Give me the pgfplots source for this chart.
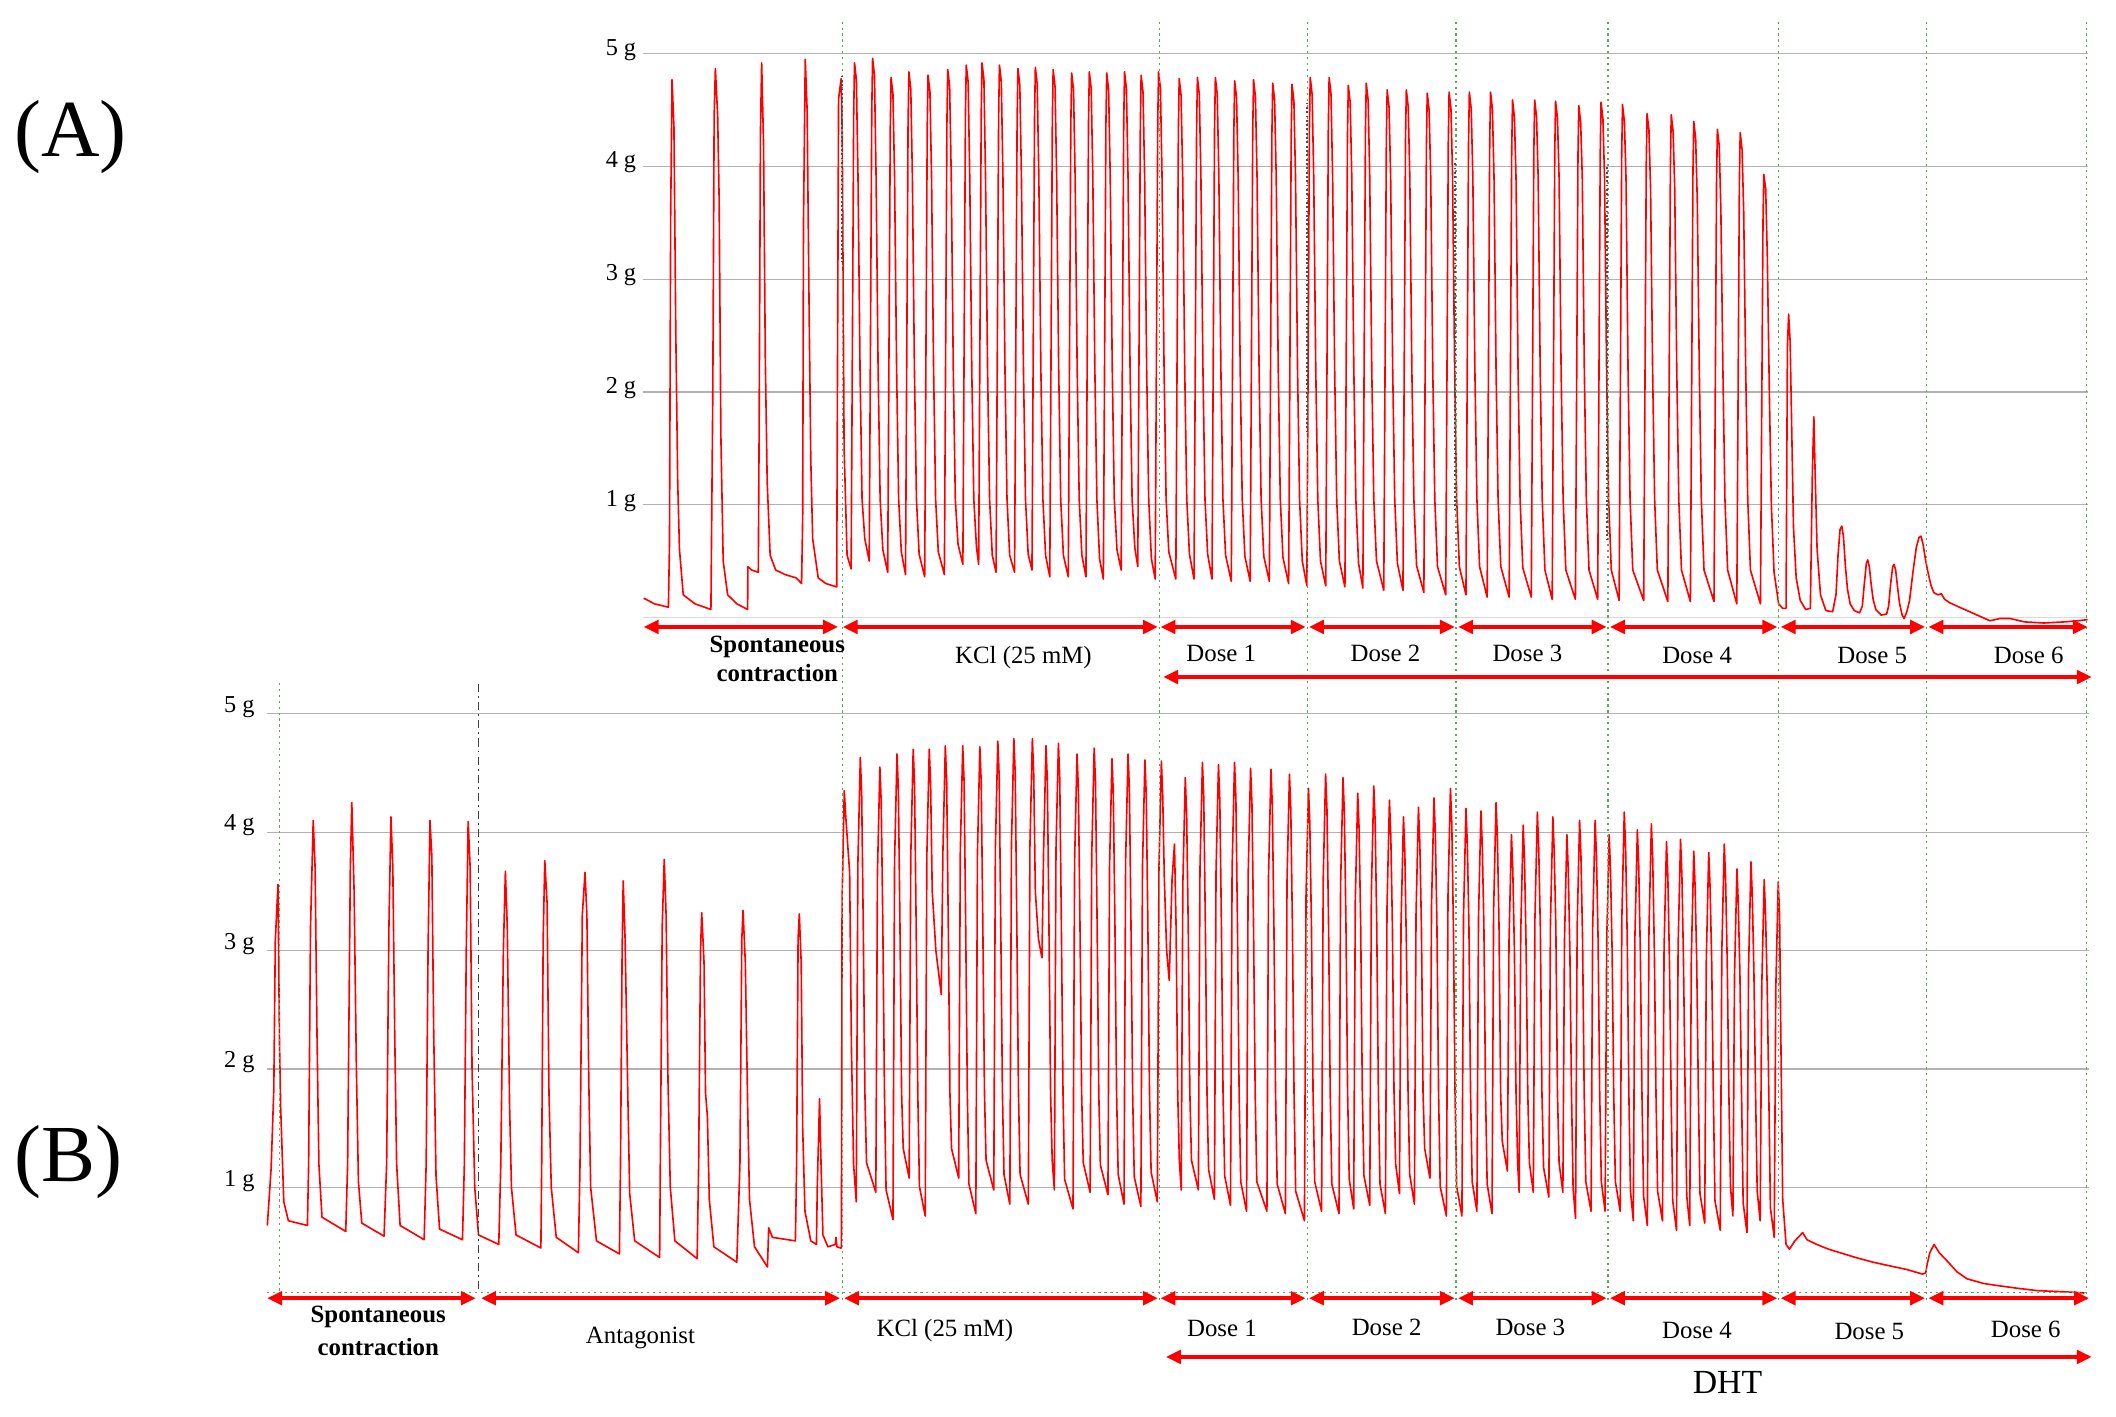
\documentclass[border=0pt]{standalone}
\usepackage{fontspec}
\setmainfont{Liberation Serif}
\usepackage{pgfplots}
\pgfplotsset{compat=1.18}
\usetikzlibrary{arrows.meta}
\definecolor{gline}{RGB}{90,170,90}
\definecolor{trace}{RGB}{255,0,0}
\pgfplotsset{trace axis/.style={scale only axis, enlargelimits=false,
  axis line style={draw=none}, tick style={draw=none}, xtick=\empty,
  ytick={1,2,3,4,5}, yticklabels={1 g,2 g,3 g,4 g,5 g},
  ymajorgrids, major grid style={color=gray!60, line width=0.5pt},
  ymin=-0.1, ymax=5,
  yticklabel style={font=\fontsize{9}{10}\selectfont, anchor=east, inner sep=0pt}}}
\tikzset{rarr/.style={draw=red, line width=1.3pt, arrows={Triangle[length=5.5pt,width=5pt]-Triangle[length=5.5pt,width=5pt]}},
  gdot/.style={gline, line width=0.5pt, dash pattern=on 0.8pt off 1.4pt}}
\newcommand\lab{\fontsize{9.2}{10}\selectfont}
\begin{document}
\begin{tikzpicture}
\path[use as bounding box] (0,0) rectangle (784pt,525pt);
% ---------------- Panel A ----------------
\begin{axis}[trace axis, at={(238.4pt,292.08pt)}, anchor=south west, width=535.1pt, height=212.98pt,
  xmin=476.8, xmax=1547, yticklabel style={xshift=-2.5pt,yshift=1.5pt},
  extra y ticks={0}, extra y tick labels={}, extra y tick style={major grid style={color=gray!30,line width=0.5pt}}]
\addplot[trace, line width=0.6pt, line join=round] coordinates {
(477.0,0.17) (485,0.12) (495.3,0.09) (496.1,0.65) (497.0,3.6) (498.0,4.77) (499.4,4.35) (500.8,2.5) (502.2,1.2) (503.5,0.6) (506.3,0.2) (515,0.12) (526.8,0.07)
(528.2,2.0) (529.2,4.45) (530.1,4.87) (531.8,4.45) (532.9,3.7) (534.2,1.6) (535.9,0.5) (539.2,0.2) (546,0.12) (554.0,0.07)
(554.2,0.45) (557,0.42) (561.9,0.40) (562.5,1.6) (563.5,4.3) (564.4,4.92) (565.8,4.2) (567.1,2.3) (568.5,1.2) (570.7,0.55) (574.8,0.42) (581.7,0.38) (590,0.35) (594.0,0.30)
(594.8,0.9) (595.4,3.5) (596.7,4.95) (598.1,4.5) (599.5,2.8) (600.8,1.4) (602.2,0.7) (606.3,0.35) (612,0.30) (620.0,0.27)
(620.6,2.2) (621.4,4.6) (623.3,4.78) (624.1,4.3) (625.5,1.5) (627.7,0.55) (630.7,0.43)
(632.6,4.47) (633.2,4.92) (634.6,4.77) (635.8,3.9) (637.3,2.2) (638.8,1.05) (640.8,0.70)
(644.1,0.50) (646.0,4.5) (646.6,4.96) (648.0,4.81) (649.2,3.9) (650.7,2.2) (652.2,1.05) (654.2,0.6)
(657.8,0.40) (659.7,4.34) (660.3,4.79) (661.7,4.64) (662.9,3.9) (664.4,2.2) (665.9,1.05) (667.9,0.58)
(671.0,0.38) (672.9,4.39) (673.5,4.84) (674.9,4.69) (676.1,3.9) (677.6,2.2) (679.1,1.05) (681.1,0.56)
(685.2,0.36) (687.1,4.36) (687.7,4.81) (689.1,4.66) (690.3,3.9) (691.8,2.2) (693.3,1.05) (695.3,0.58)
(699.8,0.38) (701.7,4.41) (702.3,4.86) (703.7,4.71) (704.9,3.9) (706.4,2.2) (707.9,1.05) (709.9,0.65)
(713.5,0.47) (715.4,4.45) (716.0,4.90) (717.4,4.75) (718.6,3.9) (720.1,2.2) (721.6,1.05) (723.6,0.62)
(725.2,0.47) (727.1,4.47) (727.7,4.92) (729.1,4.77) (730.3,3.9) (731.8,2.2) (733.3,1.05) (735.3,0.55)
(738.1,0.40) (740.0,4.45) (740.6,4.90) (742.0,4.75) (743.2,3.9) (744.7,2.2) (746.2,1.05) (748.2,0.55)
(751.8,0.40) (753.7,4.42) (754.3,4.87) (755.7,4.72) (756.9,3.9) (758.4,2.2) (759.9,1.05) (761.9,0.56)
(764.7,0.42) (766.6,4.43) (767.2,4.88) (768.6,4.73) (769.8,3.9) (771.3,2.2) (772.8,1.05) (774.8,0.55)
(777.9,0.36) (779.8,4.41) (780.4,4.86) (781.8,4.71) (783.0,3.9) (784.5,2.2) (786.0,1.05) (788.0,0.55)
(791.6,0.36) (793.5,4.38) (794.1,4.83) (795.5,4.68) (796.7,3.9) (798.2,2.2) (799.7,1.05) (801.7,0.55)
(804.7,0.36) (806.6,4.39) (807.2,4.84) (808.6,4.69) (809.8,3.9) (811.3,2.2) (812.8,1.05) (814.8,0.52)
(817.6,0.34) (819.5,4.38) (820.1,4.83) (821.5,4.68) (822.7,3.9) (824.2,2.2) (825.7,1.05) (827.7,0.6)
(830.8,0.42) (832.7,4.39) (833.3,4.84) (834.7,4.69) (835.9,3.9) (837.4,2.2) (838.9,1.05) (840.9,0.62)
(843.1,0.45) (845.0,4.36) (845.6,4.81) (847.0,4.66) (848.2,3.9) (849.7,2.2) (851.2,1.05) (853.2,0.52)
(856.0,0.34) (857.9,4.39) (858.5,4.84) (859.9,4.69) (861.1,3.9) (862.6,2.2) (864.1,1.05) (866.1,0.58)
(871.3,0.34) (873.2,4.33) (873.8,4.78) (875.2,4.63) (876.4,3.9) (877.9,2.2) (879.4,1.05) (881.4,0.56)
(884.8,0.34) (886.7,4.34) (887.3,4.79) (888.7,4.64) (889.9,3.9) (891.4,2.2) (892.9,1.05) (894.9,0.56)
(898.1,0.34) (900.0,4.34) (900.6,4.79) (902.0,4.64) (903.2,3.9) (904.7,2.2) (906.2,1.05) (908.2,0.55)
(912.4,0.32) (914.3,4.31) (914.9,4.76) (916.3,4.61) (917.5,3.9) (919.0,2.2) (920.5,1.05) (922.5,0.54)
(926.4,0.32) (928.3,4.32) (928.9,4.77) (930.3,4.62) (931.5,3.9) (933.0,2.2) (934.5,1.05) (936.5,0.54)
(940.6,0.32) (942.5,4.29) (943.1,4.74) (944.5,4.59) (945.7,3.9) (947.2,2.2) (948.7,1.05) (950.7,0.53)
(954.9,0.30) (956.8,4.28) (957.4,4.73) (958.8,4.58) (960.0,3.9) (961.5,2.2) (963.0,1.05) (965.0,0.5)
(968.4,0.28) (970.3,4.34) (970.9,4.79) (972.3,4.64) (973.5,3.9) (975.0,2.2) (976.5,1.05) (978.5,0.5)
(982.4,0.28) (984.3,4.34) (984.9,4.79) (986.3,4.64) (987.5,3.9) (989.0,2.2) (990.5,1.05) (992.5,0.5)
(996.6,0.27) (998.5,4.27) (999.1,4.72) (1000.5,4.57) (1001.7,3.9) (1003.2,2.2) (1004.7,1.05) (1006.7,0.48)
(1009.9,0.26) (1011.8,4.29) (1012.4,4.74) (1013.8,4.59) (1015.0,3.9) (1016.5,2.2) (1018.0,1.05) (1020.0,0.5)
(1025.4,0.24) (1027.3,4.23) (1027.9,4.68) (1029.3,4.53) (1030.5,3.9) (1032.0,2.2) (1033.5,1.05) (1035.5,0.48)
(1039.6,0.24) (1041.5,4.23) (1042.1,4.68) (1043.5,4.53) (1044.7,3.9) (1046.2,2.2) (1047.7,1.05) (1049.7,0.46)
(1055.1,0.22) (1057.0,4.2) (1057.6,4.65) (1059.0,4.5) (1060.2,3.9) (1061.7,2.2) (1063.2,1.05) (1065.2,0.45)
(1071.3,0.20) (1073.2,4.21) (1073.8,4.66) (1075.2,4.51) (1076.4,3.9) (1077.9,2.2) (1079.4,1.05) (1081.4,0.45)
(1086.3,0.20) (1088.2,4.21) (1088.8,4.66) (1090.2,4.51) (1091.4,3.9) (1092.9,2.2) (1094.4,1.05) (1096.4,0.45)
(1102.0,0.18) (1103.9,4.21) (1104.5,4.66) (1105.9,4.51) (1107.1,3.9) (1108.6,2.2) (1110.1,1.05) (1112.1,0.45)
(1118.3,0.18) (1120.2,4.14) (1120.8,4.59) (1122.2,4.44) (1123.4,3.9) (1124.9,2.2) (1126.4,1.05) (1128.4,0.44)
(1134.7,0.18) (1136.6,4.14) (1137.2,4.59) (1138.6,4.44) (1139.8,3.9) (1141.3,2.2) (1142.8,1.05) (1144.8,0.42)
(1150.2,0.16) (1152.1,4.13) (1152.7,4.58) (1154.1,4.43) (1155.3,3.9) (1156.8,2.2) (1158.3,1.05) (1160.3,0.42)
(1167.4,0.16) (1169.3,4.09) (1169.9,4.54) (1171.3,4.39) (1172.5,3.9) (1174.0,2.2) (1175.5,1.05) (1177.5,0.42)
(1183.9,0.16) (1185.8,4.12) (1186.4,4.57) (1187.8,4.42) (1189.0,3.9) (1190.5,2.2) (1192.0,1.05) (1194.0,0.42)
(1199.8,0.15) (1201.7,4.1) (1202.3,4.55) (1203.7,4.4) (1204.9,3.9) (1206.4,2.2) (1207.9,1.05) (1209.9,0.42)
(1218.0,0.15) (1219.9,4.02) (1220.5,4.47) (1221.9,4.32) (1223.1,3.8) (1224.6,2.2) (1226.1,1.05) (1228.1,0.42)
(1235.9,0.14) (1237.8,4.01) (1238.4,4.46) (1239.8,4.31) (1241.0,3.8) (1242.5,2.2) (1244.0,1.05) (1246.0,0.42)
(1252.6,0.14) (1254.5,3.95) (1255.1,4.40) (1256.5,4.25) (1257.7,3.7) (1259.2,2.2) (1260.7,1.05) (1262.7,0.42)
(1270.1,0.14) (1272.0,3.88) (1272.6,4.33) (1274.0,4.18) (1275.2,3.6) (1276.7,2.2) (1278.2,1.05) (1280.2,0.42)
(1287.0,0.12) (1288.9,3.85) (1289.5,4.30) (1290.9,4.15) (1292.1,3.6) (1293.6,2.2) (1295.1,1.05) (1297.1,0.42)
(1304.5,0.12) (1306.4,3.5) (1307.0,3.93) (1308.4,3.8) (1309.6,3.2) (1311.1,2.0) (1312.6,1.0) (1314.6,0.4) (1318,0.12) (1321,0.08) (1323.5,0.08)
(1324.5,2.4) (1325.4,2.69) (1326.5,2.45) (1327.5,1.8) (1329,0.8) (1331,0.35) (1334,0.15) (1338,0.07) (1341.5,0.08)
(1343,1.3) (1344.1,1.78) (1345,1.3) (1346.5,0.6) (1349,0.2) (1353,0.06) (1358,0.05)
(1360.5,0.2) (1362,0.55) (1363.5,0.78) (1364.8,0.81) (1366,0.72) (1367.5,0.45) (1369,0.25) (1371,0.12) (1374,0.06) (1378,0.04)
(1380,0.1) (1381.5,0.3) (1383,0.48) (1384,0.51) (1385.2,0.45) (1386.5,0.3) (1388,0.16) (1390,0.07) (1394,0.02) (1398,0.03)
(1399.5,0.1) (1401,0.3) (1402.5,0.45) (1403.5,0.47) (1404.7,0.42) (1406,0.28) (1407.5,0.13) (1409.5,0.02) (1411,-0.01)
(1413,0.05) (1415,0.15) (1417.5,0.4) (1420,0.62) (1422,0.71) (1423.5,0.72) (1425,0.65) (1427,0.5) (1429,0.38) (1431,0.28) (1433,0.22) (1436,0.2) (1438.5,0.21) (1441,0.16) (1444.7,0.13)
(1452,0.09) (1459.6,0.05) (1467,0.01) (1474.6,-0.03) (1482,-0.01) (1489.5,-0.01) (1500,-0.04) (1514.5,-0.05) (1530,-0.04) (1540,-0.03) (1547,-0.02)
};
\end{axis}
% ---------------- Panel B ----------------
\begin{axis}[trace axis, at={(98.8pt,36.71pt)}, anchor=south west, width=675.05pt, height=223.84pt,
  xmin=197.6, xmax=1547.7, yticklabel style={xshift=-4.3pt,yshift=2.5pt}]
\addplot[trace, line width=0.6pt, line join=round] coordinates {
(198.1,0.68) (200.9,1.16) (202.9,1.83) (204.0,3.08) (206.0,3.56) (207.1,2.23) (208.0,1.67) (210.3,0.88) (213.7,0.72) (227.8,0.68)
(228.7,1.2) (230.1,3.2) (232.1,4.10) (233.5,3.7) (234.9,2.3) (236.3,1.2) (238.6,0.75) (256.2,0.63)
(257.6,1.2) (259.6,3.7) (260.7,4.25) (262.4,3.5) (264.1,2.0) (265.6,1.05) (268.1,0.7) (284.6,0.59)
(286.5,1.2) (288.2,3.2) (289.7,4.13) (291.1,3.7) (292.5,2.3) (293.9,1.2) (296.5,0.68) (314.3,0.56)
(315.8,1.2) (317.2,3.0) (318.6,4.10) (320.0,3.8) (321.4,2.3) (323.1,1.1) (325.7,0.65) (342.7,0.56)
(344.1,1.2) (345.5,3.0) (346.9,4.09) (348.4,3.7) (349.8,2.0) (351.8,1.0) (354.6,0.6) (369.6,0.52)
(371.1,1.2) (373.0,3.0) (374.5,3.67) (375.9,3.2) (377.6,1.7) (379.0,1.0) (382.4,0.6) (400.8,0.49)
(401.4,1.2) (402.5,3.1) (403.7,3.76) (405.4,3.4) (406.8,1.8) (408.5,1.0) (412.2,0.58) (428.6,0.45)
(429.8,1.2) (431.5,3.3) (433.5,3.66) (434.9,3.3) (436.3,1.9) (437.7,1.0) (442.0,0.55) (459.0,0.44)
(459.8,1.2) (461.0,3.0) (461.8,3.59) (463.2,3.1) (465.2,1.8) (466.6,0.95) (470.3,0.55) (488.8,0.41)
(489.3,1.2) (490.7,3.2) (492.2,3.77) (493.6,3.3) (495.0,1.9) (496.7,1.0) (500.1,0.55) (516.6,0.40)
(517.7,1.2) (519.1,3.0) (520.0,3.32) (521.7,2.9) (522.8,1.8) (524.2,1.6) (525.6,0.9) (529.0,0.5) (546.0,0.37)
(548.3,1.2) (549.7,3.1) (550.6,3.34) (552.3,2.9) (554.0,1.7) (555.4,0.9) (559.1,0.5) (568.7,0.33)
(569.6,0.66) (572.4,0.58) (589.4,0.55)
(590.3,1.2) (591.4,3.1) (592.3,3.31) (593.7,2.9) (594.8,1.5) (596.5,0.8) (600.8,0.55) (605.0,0.52)
(605.6,1.0) (607.3,1.75) (608.4,1.2) (609.8,0.6) (613.5,0.50) (619.0,0.52) (619.5,0.58) (620.2,0.5) (622.9,0.49)
(623.5,0.49) (624.0,3.42) (625.6,4.35) (626.9,4.1) (629.6,3.66) (630.9,2.2) (632.5,1.2)
(634.5,0.88) (635.7,3.73) (637.5,4.63) (638.5,4.33) (639.7,3.2) (640.9,1.8) (642.1,1.21)
(649.0,0.96) (650.2,3.65) (652.0,4.55) (653.0,4.25) (654.2,3.2) (655.4,1.8) (656.6,0.98)
(661.7,0.73) (662.9,3.76) (664.7,4.66) (665.7,4.36) (666.9,3.2) (668.1,1.8) (669.3,1.33)
(673.7,1.08) (674.9,3.8) (676.7,4.70) (677.7,4.4) (678.9,3.2) (680.1,1.8) (681.3,1.01)
(685.6,0.76) (686.8,3.8) (688.6,4.70) (689.6,4.4) (690.8,3.5) (693.5,3.0)
(697.5,2.63) (698.7,3.83) (700.5,4.73) (701.5,4.43) (702.7,3.2) (703.9,1.8) (705.1,1.33)
(710.4,1.08) (711.6,3.83) (713.4,4.73) (714.4,4.43) (715.6,3.2) (716.8,1.8) (718.0,1.03)
(723.1,0.78) (724.3,3.82) (726.1,4.72) (727.1,4.42) (728.3,3.2) (729.5,1.8) (730.7,1.23)
(736.4,0.98) (737.6,3.87) (739.4,4.77) (740.4,4.47) (741.6,3.2) (742.8,1.8) (744.0,1.11)
(748.3,0.86) (749.5,3.89) (751.3,4.79) (752.3,4.49) (753.5,3.2) (754.7,1.8) (755.9,1.11)
(762.0,0.86) (763.2,3.89) (765.0,4.79) (766.0,4.49) (767.2,3.5) (769.5,3.1)
(772.1,2.94) (773.3,3.83) (775.1,4.73) (776.1,4.43) (777.3,3.2) (778.5,1.8) (779.7,1.23)
(781.3,0.98) (782.5,3.85) (784.3,4.75) (785.3,4.45) (786.5,3.2) (787.7,1.8) (788.9,1.07)
(795.1,0.82) (796.3,3.76) (798.1,4.66) (799.1,4.36) (800.3,3.2) (801.5,1.8) (802.7,1.21)
(807.8,0.96) (809.0,3.81) (810.8,4.71) (811.8,4.41) (813.0,3.2) (814.2,1.8) (815.4,1.19)
(821.0,0.94) (822.2,3.72) (824.0,4.62) (825.0,4.32) (826.2,3.2) (827.4,1.8) (828.6,1.11)
(832.9,0.86) (834.1,3.76) (835.9,4.66) (836.9,4.36) (838.1,3.2) (839.3,1.8) (840.5,1.09)
(845.4,0.84) (846.6,3.71) (848.4,4.61) (849.4,4.31) (850.6,3.2) (851.8,1.8) (853.0,1.13)
(857.6,0.88) (858.8,3.7) (860.6,4.60) (861.6,4.3) (862.8,3.6) (864.5,3.0) (866.4,2.75) (868.5,3.6) (870.3,3.9) (871.5,3.2) (872.7,1.8) (873.9,1.23)
(875.3,0.98) (876.5,3.56) (878.3,4.46) (879.3,4.16) (880.5,3.2) (881.7,1.8) (882.9,1.23)
(888.0,0.98) (889.2,3.69) (891.0,4.59) (892.0,4.29) (893.2,3.2) (894.4,1.8) (895.6,1.15)
(899.9,0.90) (901.1,3.67) (902.9,4.57) (903.9,4.27) (905.1,3.2) (906.3,1.8) (907.5,1.1)
(911.8,0.85) (913.0,3.69) (914.8,4.59) (915.8,4.29) (917.0,3.2) (918.2,1.8) (919.4,1.05)
(923.7,0.80) (924.9,3.64) (926.7,4.54) (927.7,4.24) (928.9,3.2) (930.1,1.8) (931.3,1.05)
(938.8,0.80) (940.0,3.63) (941.8,4.53) (942.8,4.23) (944.0,3.2) (945.2,1.8) (946.4,1.03)
(952.5,0.78) (953.7,3.59) (955.5,4.49) (956.5,4.19) (957.7,3.2) (958.9,1.8) (960.1,0.97)
(966.6,0.72) (967.8,3.47) (969.6,4.37) (970.6,4.07) (971.8,3.2) (973.0,1.8) (974.2,1.05)
(979.3,0.80) (980.5,3.59) (982.3,4.49) (983.3,4.19) (984.5,3.2) (985.7,1.8) (986.9,1.03)
(992.2,0.78) (993.4,3.56) (995.2,4.46) (996.2,4.16) (997.4,3.2) (998.6,1.8) (999.8,1.07)
(1003.1,0.82) (1004.3,3.43) (1006.1,4.33) (1007.1,4.03) (1008.3,3.2) (1009.5,1.8) (1010.7,1.1)
(1015.0,0.85) (1016.2,3.49) (1018.0,4.39) (1019.0,4.09) (1020.2,3.2) (1021.4,1.8) (1022.6,1.03)
(1026.6,0.78) (1027.8,3.37) (1029.6,4.27) (1030.6,3.97) (1031.8,3.2) (1033.0,1.8) (1034.2,1.2)
(1037.0,0.95) (1038.2,3.23) (1040.0,4.13) (1041.0,3.83) (1042.2,3.0) (1043.4,1.8) (1044.6,1.11)
(1048.1,0.86) (1049.3,3.31) (1051.1,4.21) (1052.1,3.91) (1053.3,3.2) (1054.5,1.8) (1055.7,1.33)
(1059.6,1.08) (1060.8,3.39) (1062.6,4.29) (1063.6,3.99) (1064.8,3.2) (1066.0,1.8) (1067.2,1.01)
(1071.8,0.76) (1073.0,3.47) (1074.8,4.37) (1075.8,4.07) (1077.0,3.2) (1078.2,1.8) (1079.4,1.01)
(1083.3,0.76) (1084.5,3.3) (1086.3,4.20) (1087.3,3.9) (1088.5,3.2) (1089.7,1.8) (1090.9,1.05)
(1094.4,0.80) (1095.6,3.28) (1097.4,4.18) (1098.4,3.88) (1099.6,3.2) (1100.8,1.8) (1102.0,1.03)
(1105.6,0.78) (1106.8,3.35) (1108.6,4.25) (1109.6,3.95) (1110.8,3.2) (1112.0,1.8) (1113.2,1.39)
(1117.0,1.14) (1118.2,3.08) (1120.0,3.98) (1121.0,3.68) (1122.2,3.0) (1123.4,1.8) (1124.6,1.21)
(1125.7,0.96) (1126.9,3.16) (1128.7,4.06) (1129.7,3.76) (1130.9,3.0) (1132.1,1.8) (1133.3,1.21)
(1136.2,0.96) (1137.4,3.27) (1139.2,4.17) (1140.2,3.87) (1141.4,3.2) (1142.6,1.8) (1143.8,1.17)
(1147.7,0.92) (1148.9,3.23) (1150.7,4.13) (1151.7,3.83) (1152.9,3.2) (1154.1,1.8) (1155.3,1.21)
(1158.1,0.96) (1159.3,3.08) (1161.1,3.98) (1162.1,3.68) (1163.3,3.0) (1164.5,1.8) (1165.7,0.99)
(1167.5,0.74) (1168.7,3.2) (1170.5,4.10) (1171.5,3.8) (1172.7,3.1) (1173.9,1.8) (1175.1,1.05)
(1179.0,0.80) (1180.2,3.2) (1182.0,4.10) (1183.0,3.8) (1184.2,3.1) (1185.4,1.8) (1186.6,1.05)
(1189.4,0.80) (1190.6,3.08) (1192.4,3.98) (1193.4,3.68) (1194.6,3.0) (1195.8,1.8) (1197.0,1.05)
(1200.6,0.80) (1201.8,3.27) (1203.6,4.17) (1204.6,3.87) (1205.8,3.1) (1207.0,1.8) (1208.2,0.97)
(1210.3,0.72) (1211.5,3.12) (1213.3,4.02) (1214.3,3.72) (1215.5,3.0) (1216.7,1.8) (1217.9,0.93)
(1220.7,0.68) (1221.9,3.17) (1223.7,4.07) (1224.7,3.77) (1225.9,3.0) (1227.1,1.8) (1228.3,0.97)
(1231.9,0.72) (1233.1,3.02) (1234.9,3.92) (1235.9,3.62) (1237.1,2.9) (1238.3,1.8) (1239.5,0.89)
(1242.3,0.64) (1243.5,3.04) (1245.3,3.94) (1246.3,3.64) (1247.5,2.9) (1248.7,1.8) (1249.9,0.93)
(1252.1,0.68) (1253.3,2.94) (1255.1,3.84) (1256.1,3.54) (1257.3,2.9) (1258.5,1.8) (1259.7,0.95)
(1263.2,0.70) (1264.4,2.93) (1266.2,3.83) (1267.2,3.53) (1268.4,2.9) (1269.6,1.8) (1270.8,0.89)
(1274.7,0.64) (1275.9,3.0) (1277.7,3.90) (1278.7,3.6) (1279.9,2.9) (1281.1,1.8) (1282.3,1.01)
(1284.1,0.76) (1285.3,2.79) (1287.1,3.69) (1288.1,3.39) (1289.3,2.8) (1290.5,1.8) (1291.7,0.87)
(1294.5,0.62) (1295.7,2.85) (1297.5,3.75) (1298.5,3.45) (1299.7,2.8) (1300.9,1.8) (1302.1,0.97)
(1304.3,0.72) (1305.5,2.7) (1307.3,3.60) (1308.3,3.3) (1309.5,2.7) (1310.7,1.8) (1311.9,0.83)
(1314.7,0.58) (1315.9,2.68) (1317.7,3.58) (1318.7,3.3) (1319.6,2.3) (1321.0,0.9) (1323.5,0.52) (1326,0.48) (1330,0.55) (1335.8,0.62) (1339,0.56) (1346.2,0.52) (1355,0.48) (1363.6,0.45) (1375,0.41) (1388.0,0.37) (1400,0.34) (1412.4,0.31) (1424.5,0.27) (1427.0,0.28) (1428.0,0.35) (1430,0.45) (1433.2,0.52) (1437,0.45) (1443.7,0.37) (1450,0.29) (1457.6,0.23) (1470,0.19) (1482.0,0.17) (1495,0.15) (1509.8,0.13) (1530,0.12) (1544.6,0.11)
};
\end{axis}
% ---------------- annotations ----------------
\begin{scope}[x=0.5pt,y=-0.5pt,shift={(0pt,525pt)}]
\foreach \gx in {624.1,859.1,968.7,1079,1191.5,1318,1427.5,1546}{\draw[gdot] (\gx,16) -- (\gx,966);}
\draw[gdot] (206.9,506) -- (206.9,966);
\draw[gdot] (198,958) -- (1546,958);
\draw[black!75, line width=0.7pt, dash pattern=on 3pt off 1.5pt on 0.7pt off 1.5pt] (354.6,507) -- (354.6,958);
\draw[black!70, line width=0.6pt, dash pattern=on 0.7pt off 0.9pt] (624.1,56) -- (624.1,194);
\draw[black!70, line width=0.6pt, dash pattern=on 0.7pt off 0.9pt] (968.7,76) -- (968.7,320);
\draw[black!70, line width=0.6pt, dash pattern=on 0.7pt off 0.9pt] (1078,121) -- (1078,378);
\draw[black!70, line width=0.6pt, dash pattern=on 0.7pt off 0.9pt] (1191,124) -- (1191,400);
% arrows panel A
\foreach \a/\b in {477/621,624.5/858,860/967.5,970/1078,1080.5/1190.5,1193/1317,1319.5/1426.5,1429/1547}{\draw[rarr] (\a,464.6) -- (\b,464.6);}
\draw[rarr] (862,501.7) -- (1550,501.7);
% arrows panel B
\foreach \a/\b in {198/352.5,356.5/622.5,625.5/858,860/967.5,970/1078,1080.5/1190.5,1193/1317,1319.5/1426.5,1429/1548}{\draw[rarr] (\a,962) -- (\b,962);}
\draw[rarr] (864,1005.5) -- (1550,1005.5);
% labels panel A
\node[font=\lab\bfseries] at (576,479.1) {Spontaneous};
\node[font=\lab\bfseries] at (576,498.4) {contraction};
\node[font=\lab] at (758.4,487.2) {KCl (25 mM)};
\node[font=\lab] at (905.0,483.9) {Dose 1};
\node[font=\lab] at (1026.6,483.9) {Dose 2};
\node[font=\lab] at (1131.8,483.9) {Dose 3};
\node[font=\lab] at (1257.6,485.4) {Dose 4};
\node[font=\lab] at (1387.3,485.4) {Dose 5};
\node[font=\lab] at (1503.3,485.4) {Dose 6};
\node[font=\fontsize{30}{32}\selectfont, anchor=base] at (52.4,116.1) {(A)};
% labels panel B
\node[font=\lab\bfseries] at (280.3,975.8) {Spontaneous};
\node[font=\lab\bfseries] at (280.3,998.5) {contraction};
\node[font=\lab] at (474.6,991.5) {Antagonist};
\node[font=\lab] at (700.2,986.3) {KCl (25 mM)};
\node[font=\lab] at (905.5,984.5) {Dose 1};
\node[font=\lab] at (1027.5,983.5) {Dose 2};
\node[font=\lab] at (1134,983.5) {Dose 3};
\node[font=\lab] at (1257.5,985.8) {Dose 4};
\node[font=\lab] at (1385.2,987) {Dose 5};
\node[font=\lab] at (1501.1,985) {Dose 6};
\node[font=\fontsize{12.5}{14}\selectfont] at (1280.1,1024.6) {DHT};
\node[font=\fontsize{30}{32}\selectfont, anchor=base] at (50.6,875.6) {(B)};
\end{scope}
\end{tikzpicture}
\end{document}
